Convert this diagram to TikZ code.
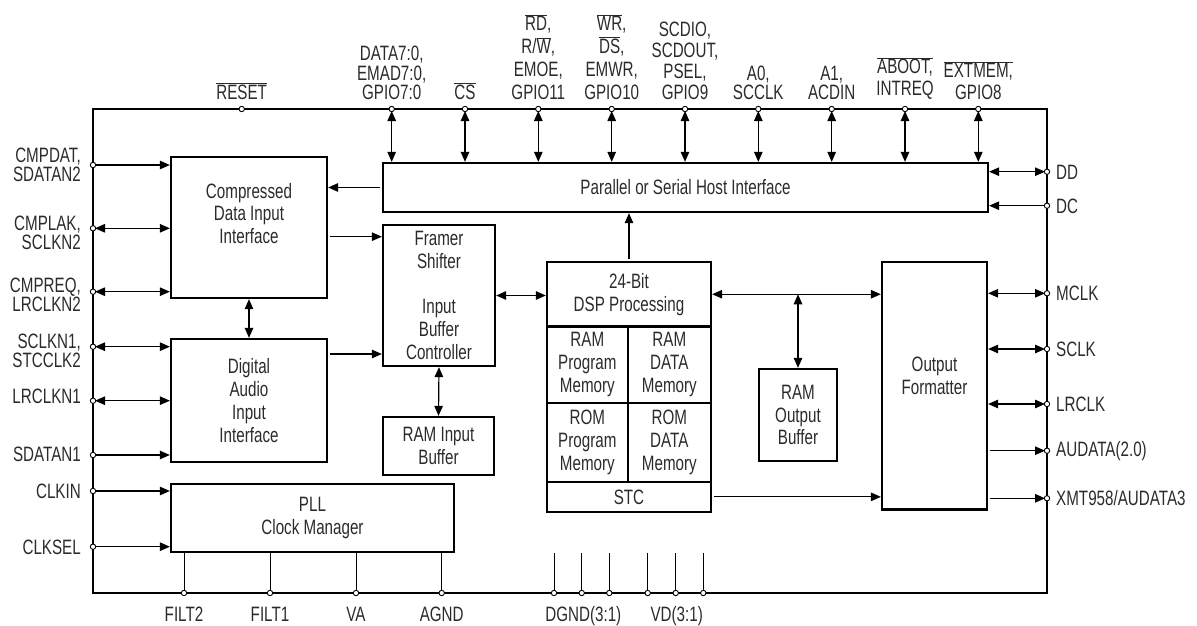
\documentclass[tikz,border=0pt]{standalone}
\usepackage{fontspec}
\setmainfont{Liberation Sans}[FakeStretch=0.73]
\usetikzlibrary{arrows.meta,calc}
\definecolor{txtc}{HTML}{2B2B2B}
\newcommand\ovl[1]{$\overline{\mbox{#1}}$}
\tikzset{
  blk/.style={draw, line width=2.3pt, inner sep=0pt, text=txtc, align=center,
    font=\fontsize{20.8}{22.8}\selectfont},
  btxt/.style={text=txtc, align=center, inner sep=0pt, font=\fontsize{20.8}{22.8}\selectfont},
  plab/.style={text=txtc, align=center, inner sep=1pt, font=\fontsize{20.8}{19}\selectfont},
  lsk/.style={font=\fontsize{20.8}{#1}\selectfont},
  pinc/.style={circle, draw, fill=white, line width=0.9pt, minimum size=5.4pt, inner sep=0pt},
  arr/.style={-{Triangle[length=10pt,width=8.5pt]}, line width=1.2pt, shorten <=1.5pt},
  darr/.style={{Triangle[length=10pt,width=8.5pt]}-{Triangle[length=10pt,width=8.5pt]}, line width=1.2pt},
  pinline/.style={line width=0.9pt}
}
\begin{document}
\begin{tikzpicture}[x=1pt,y=-1pt]
\useasboundingbox (0,0) rectangle (1197,626);
% chip outline
\node[draw, line width=2.6pt, outer sep=0pt, inner sep=0pt, minimum width=954pt, minimum height=484pt] (chip) at (570,351) {};
% blocks
\node[blk, minimum width=605pt, minimum height=49pt] (host) at (685.5,187.5) {Parallel or Serial Host Interface};
\node[blk, minimum width=156pt, minimum height=141pt] (comp) at (249,227.5) {};
\node[btxt] at ([yshift=14pt]comp.center) {Compressed\\Data Input\\Interface};
\node[blk, minimum width=112pt, minimum height=141pt] (framer) at (439,295.5) {Framer\\Shifter\\[22.8pt]Input\\Buffer\\Controller};
\node[blk, minimum width=111pt, minimum height=58pt] (rib) at (438.5,446) {RAM Input\\Buffer};
\node[blk, minimum width=164pt, minimum height=64.5pt] (dsp) at (629,294.25) {24-Bit\\DSP Processing};
\node[blk, minimum width=80.7pt, minimum height=76.5pt] (ramp) at (587.35,364.75) {RAM\\Program\\Memory};
\node[blk, minimum width=83.3pt, minimum height=76.5pt] (ramd) at (669.35,364.75) {RAM\\DATA\\Memory};
\node[blk, minimum width=80.7pt, minimum height=78.7pt] (romp) at (587.35,442.35) {ROM\\Program\\Memory};
\node[blk, minimum width=83.3pt, minimum height=78.7pt] (romd) at (669.35,442.35) {ROM\\DATA\\Memory};
\node[blk, minimum width=164pt, minimum height=30.3pt] (stc) at (629,496.85) {STC};
\node[blk, minimum width=78pt, minimum height=92pt] (rob) at (798,415) {RAM\\Output\\Buffer};
\node[blk, minimum width=105pt, minimum height=247.5pt] (of) at (934.5,385.75) {};
\node[btxt] at ([yshift=10pt]of.center) {Output\\Formatter};
\node[blk, minimum width=156pt, minimum height=123pt] (daii) at (249,400.5) {Digital\\Audio\\Input\\Interface};
\node[blk, minimum width=283pt, minimum height=68pt] (pll) at (312.5,518) {PLL\\Clock Manager};
% pin coordinates
\coordinate (t0) at (241.7,109);
\foreach \i/\x in {1/391.7,2/465,3/538.3,4/611.7,5/685,6/758.3,7/831.7,8/905,9/978.3}
  \coordinate (t\i) at (\x,109);
\foreach \i/\y in {1/165,2/228.3,3/291.7,4/346.7,5/400.7,6/455,7/491,8/546.7}
  \coordinate (l\i) at (93,\y);
\foreach \i/\y in {1/171.7,2/205.7,3/293.3,4/349,5/404,6/450.7,7/498.3}
  \coordinate (r\i) at (1047,\y);
\foreach \i/\x in {1/184,2/270,3/356,4/441.7}
  \coordinate (b\i) at (\x,593);
\foreach \i/\x in {1/554,2/581.7,3/609.3,4/647.7,5/675.7,6/703.3}{
  \coordinate (d\i) at (\x,593);
  \coordinate (dt\i) at (\x,553);
}
\coordinate (j1) at (0,354);
% top connectors
\foreach \i in {1,...,9}
  \draw[darr, shorten <=2pt] (t\i) -- (t\i |- host.north);
% left connectors
\draw[arr] (l1) -- (l1 -| comp.west);
\draw[darr, shorten <=2pt] (l2) -- (l2 -| comp.west);
\draw[darr, shorten <=2pt] (l3) -- (l3 -| comp.west);
\draw[darr, shorten <=2pt] (l4) -- (l4 -| daii.west);
\draw[darr, shorten <=2pt] (l5) -- (l5 -| daii.west);
\draw[arr] (l6) -- (l6 -| daii.west);
\draw[arr] (l7) -- (l7 -| pll.west);
\draw[arr] (l8) -- (l8 -| pll.west);
% right connectors
\draw[darr, shorten <=2pt] (r1) -- (r1 -| host.east);
\draw[arr] (r2) -- (r2 -| host.east);
\draw[darr, shorten <=2pt] (r3) -- (r3 -| of.east);
\draw[darr, shorten <=2pt] (r4) -- (r4 -| of.east);
\draw[darr, shorten <=2pt] (r5) -- (r5 -| of.east);
\draw[arr, shorten >=2pt] (r6 -| of.east) -- (r6);
\draw[arr, shorten >=2pt] (r7 -| of.east) -- (r7);
% bottom pins
\foreach \i in {1,...,4}
  \draw[pinline] (b\i |- pll.south) -- (b\i);
\foreach \i in {1,...,6}
  \draw[pinline] (dt\i) -- (d\i);
% internal connectors
\draw[arr] (host.west) -- (host.west -| comp.east);
\draw[arr] ([yshift=-9.2pt]comp.east) -- ([yshift=-9.2pt]comp.east -| framer.west);
\draw[darr] (comp.south) -- (daii.north);
\draw[arr] (daii.east |- j1) -- (framer.west |- j1);
\draw[darr] (framer.east) -- (framer.east -| dsp.west);
\draw[darr] (framer.south) -- (rib.north);
\draw[arr] (dsp.north) -- (dsp.north |- host.south);
\draw[darr] (dsp.east) -- (dsp.east -| of.west);
\draw[darr] (rob.north |- dsp.east) -- (rob.north);
\draw[arr] (stc.east) -- (stc.east -| of.west);
% pin circles
\foreach \p in {t0,t1,t2,t3,t4,t5,t6,t7,t8,t9,l1,l2,l3,l4,l5,l6,l7,l8,r1,r2,r3,r4,r5,r6,r7,b1,b2,b3,b4,d1,d2,d3,d4,d5,d6}
  \node[pinc] at (\p) {};
% top labels
\node[plab, anchor=south] at (241.7,101) {\ovl{RESET}};
\node[plab, lsk=19.5, anchor=south] at (391.7,101) {DATA7:0,\\EMAD7:0,\\GPIO7:0};
\node[plab, anchor=south] at (465,101) {\ovl{CS}};
\node[plab, lsk=23, anchor=south] at (538.3,101) {\ovl{RD},\\R/\ovl{W},\\EMOE,\\GPIO11};
\node[plab, lsk=23, anchor=south] at (611.7,101) {\ovl{WR},\\\ovl{DS},\\EMWR,\\GPIO10};
\node[plab, lsk=21, anchor=south] at (685,101) {SCDIO,\\SCDOUT,\\PSEL,\\GPIO9};
\node[plab, lsk=19.5, anchor=south] at (758.3,101) {A0,\\SCCLK};
\node[plab, lsk=19.5, anchor=south] at (831.7,101) {A1,\\ACDIN};
\node[plab, lsk=22, anchor=south] at (905,101) {\ovl{ABOOT,}\\INTREQ};
\node[plab, lsk=22, anchor=south] at (978.3,101) {\ovl{EXTMEM,}\\GPIO8};
% left labels
\node[plab, anchor=east, align=right] at (82,165) {CMPDAT,\\SDATAN2};
\node[plab, anchor=east, align=right] at (82,233) {CMPLAK,\\SCLKN2};
\node[plab, anchor=east, align=right] at (82,295) {CMPREQ,\\LRCLKN2};
\node[plab, anchor=east, align=right] at (82,351) {SCLKN1,\\STCCLK2};
\node[plab, anchor=east] at (82,396) {LRCLKN1};
\node[plab, anchor=east] at (82,454) {SDATAN1};
\node[plab, anchor=east] at (82,491.5) {CLKIN};
\node[plab, anchor=east] at (82,547) {CLKSEL};
% right labels
\node[plab, anchor=west] at (1055,172) {DD};
\node[plab, anchor=west] at (1055,206) {DC};
\node[plab, anchor=west] at (1055,293.5) {MCLK};
\node[plab, anchor=west] at (1055,349) {SCLK};
\node[plab, anchor=west] at (1055,404) {LRCLK};
\node[plab, anchor=west] at (1055,451) {AUDATA(2.0)};
\node[plab, anchor=west] at (1055,498.5) {XMT958/AUDATA3};
% bottom labels
\node[plab, anchor=base] at (184,621) {FILT2};
\node[plab, anchor=base] at (270,621) {FILT1};
\node[plab, anchor=base] at (356,621) {VA};
\node[plab, anchor=base] at (441.7,621) {AGND};
\node[plab, anchor=base] at (583.3,621) {DGND(3:1)};
\node[plab, anchor=base] at (676.7,621) {VD(3:1)};
\end{tikzpicture}
\end{document}
